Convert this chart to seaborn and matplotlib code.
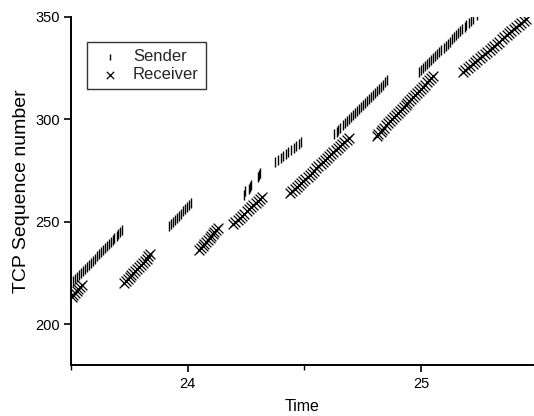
import matplotlib
matplotlib.use("Agg")
import matplotlib.pyplot as plt
import seaborn as sns
import pandas as pd
from matplotlib.ticker import FixedLocator, NullFormatter

# ---------------- data ----------------
sender_time = [
    23.510, 23.518, 23.527, 23.535, 23.543, 23.552, 23.560, 23.569, 23.577, 23.586,
    23.594, 23.602, 23.611, 23.619, 23.628, 23.636, 23.644, 23.653, 23.661, 23.670,
    23.678, 23.686, 23.695, 23.703, 23.712, 23.720,
    23.920, 23.929, 23.937, 23.946, 23.955, 23.963, 23.972, 23.980, 23.989, 23.998,
    24.006, 24.015,
    24.243, 24.246, 24.264, 24.268, 24.272, 24.302, 24.306, 24.310,
    24.376, 24.387, 24.398, 24.409, 24.420, 24.431, 24.443, 24.454, 24.465, 24.476,
    24.487,
    24.629, 24.638, 24.646, 24.655, 24.664, 24.673, 24.681, 24.690, 24.699, 24.707,
    24.716, 24.725, 24.734, 24.742, 24.751, 24.760, 24.768, 24.777, 24.786, 24.795,
    24.803, 24.812, 24.821, 24.829, 24.838, 24.847, 24.856,
    24.990, 24.999, 25.008, 25.017, 25.026, 25.035, 25.044, 25.053, 25.061, 25.070,
    25.079, 25.088, 25.097, 25.106, 25.115, 25.124, 25.133, 25.142, 25.151, 25.160,
    25.169, 25.178, 25.187, 25.195, 25.204, 25.213, 25.222, 25.240,
]
sender_seq = [
    221, 222, 223, 224, 225, 226, 227, 228, 229, 230,
    231, 232, 233, 234, 235, 236, 237, 238, 239, 240,
    241, 242, 243, 244, 245, 246,
    248, 249, 250, 251, 252, 253, 254, 255, 256, 257,
    258, 259,
    263, 265, 266, 267, 268, 272, 273, 274,
    279, 280, 281, 282, 283, 284, 285, 286, 287, 288,
    289,
    293, 294, 295, 296, 297, 298, 299, 300, 301, 302,
    303, 304, 305, 306, 307, 308, 309, 310, 311, 312,
    313, 314, 315, 316, 317, 318, 319,
    323, 324, 325, 326, 327, 328, 329, 330, 331, 332,
    333, 334, 335, 336, 337, 338, 339, 340, 341, 342,
    343, 344, 345, 346, 347, 348, 349, 351,
]

receiver_time = [
    23.503, 23.510, 23.517, 23.524, 23.531, 23.538, 23.545,
    23.727, 23.735, 23.743, 23.751, 23.759, 23.767, 23.775, 23.783, 23.792, 23.800,
    23.808, 23.816, 23.824, 23.832, 23.840,
    24.050, 24.057, 24.065, 24.072, 24.079, 24.086, 24.094, 24.101, 24.108, 24.115,
    24.123, 24.130,
    24.195, 24.205, 24.214, 24.224, 24.233, 24.243, 24.253, 24.262, 24.272, 24.281,
    24.291, 24.301, 24.310, 24.320,
    24.440, 24.449, 24.459, 24.468, 24.477, 24.486, 24.496, 24.505, 24.514, 24.523,
    24.533, 24.542, 24.551, 24.560, 24.570, 24.579, 24.588, 24.597, 24.607, 24.616,
    24.625, 24.634, 24.644, 24.653, 24.662, 24.671, 24.681, 24.690,
    24.810, 24.818, 24.827, 24.835, 24.843, 24.851, 24.860, 24.868, 24.876, 24.884,
    24.893, 24.901, 24.909, 24.917, 24.926, 24.934, 24.942, 24.950, 24.959, 24.967,
    24.975, 24.983, 24.992, 25.000, 25.008, 25.017, 25.025, 25.033, 25.041, 25.050,
    25.180, 25.190, 25.201, 25.211, 25.222, 25.232, 25.242, 25.253, 25.263, 25.274,
    25.284, 25.294, 25.305, 25.315, 25.326, 25.336, 25.346, 25.357, 25.367, 25.378,
    25.388, 25.398, 25.409, 25.419, 25.430, 25.440, 25.450,
]
receiver_seq = [
    213, 214, 215, 216, 217, 218, 219,
    220, 221, 222, 223, 224, 225, 226, 227, 228, 229,
    230, 231, 232, 233, 234,
    236, 237, 238, 239, 240, 241, 242, 243, 244, 245,
    246, 247,
    249, 250, 251, 252, 253, 254, 255, 256, 257, 258,
    259, 260, 261, 262,
    264, 265, 266, 267, 268, 269, 270, 271, 272, 273,
    274, 275, 276, 277, 278, 279, 280, 281, 282, 283,
    284, 285, 286, 287, 288, 289, 290, 291,
    292, 293, 294, 295, 296, 297, 298, 299, 300, 301,
    302, 303, 304, 305, 306, 307, 308, 309, 310, 311,
    312, 313, 314, 315, 316, 317, 318, 319, 320, 321,
    323, 324, 325, 326, 327, 328, 329, 330, 331, 332,
    333, 334, 335, 336, 337, 338, 339, 340, 341, 342,
    343, 344, 345, 346, 347, 348, 349,
]

x_major_ticks = [24, 25]
x_tick_labels = ["24", "25"]
x_minor_ticks = [23.5, 24.5, 25.5]
y_ticks = [200, 250, 300, 350]
y_tick_labels = ["200", "250", "300", "350"]
series_names = ["Sender", "Receiver"]
# ----------------------------------------------------------------

sns.set_theme(style="ticks")
plt.rcParams["font.family"] = ["Liberation Sans", "DejaVu Sans"]

sender_df = pd.DataFrame({"Time": sender_time, "Seq": sender_seq})
receiver_df = pd.DataFrame({"Time": receiver_time, "Seq": receiver_seq})

fig = plt.figure(figsize=(5.34, 4.16), dpi=100)
ax = fig.add_axes([0.133, 0.1226, 0.865, 0.8366])

sns.scatterplot(data=sender_df, x="Time", y="Seq", marker="|", color="black",
                s=42, linewidth=1.0, ax=ax, label=series_names[0], legend=False)
sns.scatterplot(data=receiver_df, x="Time", y="Seq", marker="x", color="black",
                s=50, linewidth=0.9, ax=ax, label=series_names[1], legend=False)

ax.set_xlim(23.5, 25.48)
ax.set_ylim(180, 350)
ax.set_xticks(x_major_ticks)
ax.set_xticklabels(x_tick_labels)
ax.xaxis.set_minor_locator(FixedLocator(x_minor_ticks))
ax.xaxis.set_minor_formatter(NullFormatter())
ax.set_yticks(y_ticks)
ax.set_yticklabels(y_tick_labels)

for side in ["top", "right"]:
    ax.spines[side].set_visible(False)
for side in ["left", "bottom"]:
    ax.spines[side].set_linewidth(1.4)
    ax.spines[side].set_color("black")

ax.tick_params(axis="both", which="major", direction="out", length=5, width=1.2,
               colors="black", labelsize=10.5)
ax.tick_params(axis="x", which="major", pad=3.5)
ax.tick_params(axis="y", which="major", pad=3)
ax.tick_params(axis="x", which="minor", direction="out", length=3.5, width=1.0, colors="black")

ax.set_xlabel("Time", fontsize=11.5, color="black", labelpad=6)
ax.set_ylabel("TCP Sequence number", fontsize=14, color="black", labelpad=4)

handles, labels = ax.get_legend_handles_labels()
leg = ax.legend(handles=handles, labels=labels, loc="upper left",
                bbox_to_anchor=(0.035, 0.927), borderaxespad=0, frameon=True,
                fancybox=False, edgecolor="black", fontsize=12,
                handletextpad=0.45, borderpad=0.4, labelspacing=0.2,
                handlelength=1.9, markerscale=0.75)
leg.get_frame().set_linewidth(1.0)

fig.savefig("out.png", dpi=100, facecolor="white")
